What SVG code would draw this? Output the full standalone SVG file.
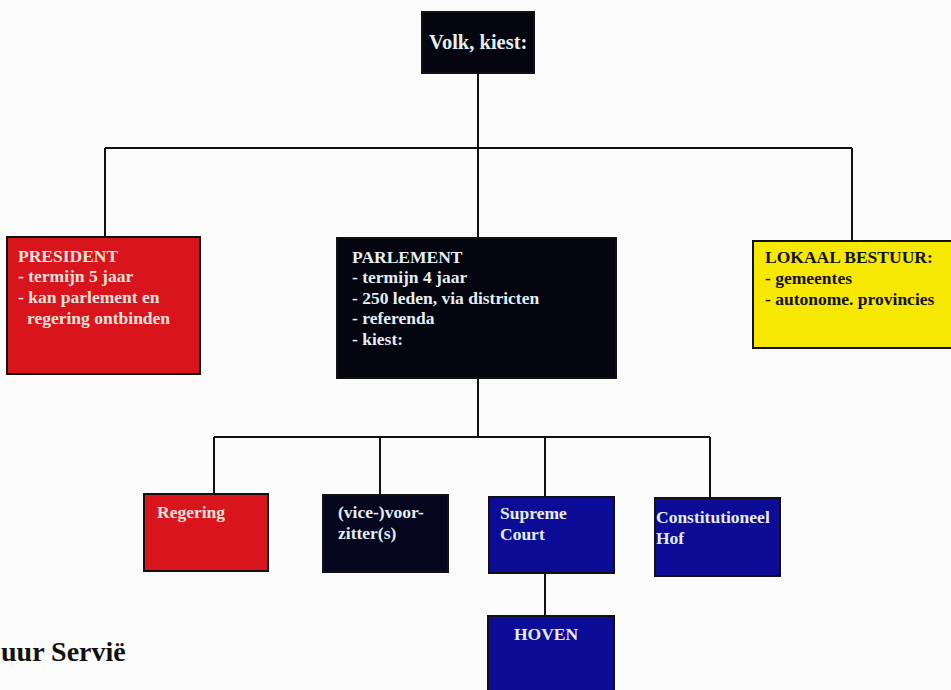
<svg xmlns="http://www.w3.org/2000/svg" width="951" height="690" viewBox="0 0 951 690">
<style>
.box{stroke:#111;stroke-width:2}
.red{fill:#d8141c}
.blk{fill:#05050f}
.navy{fill:#06061e}
.blue{fill:#0c0c96}
.yel{fill:#f6e800}
.t,.tr,.tk{font-family:"Liberation Serif",serif;font-weight:bold;font-size:17.5px}
.t{fill:#e4eef4}
.tr{fill:#f6e4dc}
.tk{fill:#111}
.con{stroke:#111;stroke-width:2;fill:none}
</style>
<rect width="951" height="690" fill="#fbfbfb"/>
<g id="connectors">
<path class="con" d="M478 73V148M105 148H852M105 148V238M478 148V238M852 148V242"/>
<path class="con" d="M478 378V437M214 437H710M214 437V495M380 437V495M545 437V497M710 437V498M545 573V617"/>
</g>
<g id="volk"><rect class="box blk" x="422" y="12" width="112" height="61"/><text class="t" x="429" y="49" style="font-size:20.5px">Volk, kiest:</text></g>
<g id="president"><rect class="box red" x="7" y="237" width="193" height="137"/>
<text class="tr" x="18" y="262">PRESIDENT</text>
<text class="tr" x="18" y="282">- termijn 5 jaar</text>
<text class="tr" x="18" y="303">- kan parlement en</text>
<text class="tr" x="27" y="324">regering ontbinden</text></g>
<g id="parlement"><rect class="box blk" x="337" y="238" width="279" height="140"/>
<text class="t" x="352" y="263">PARLEMENT</text>
<text class="t" x="352" y="283">- termijn 4 jaar</text>
<text class="t" x="352" y="304">- 250 leden, via districten</text>
<text class="t" x="352" y="324">- referenda</text>
<text class="t" x="352" y="345">- kiest:</text></g>
<g id="lokaal"><rect class="box yel" x="753" y="241" width="205" height="107"/>
<text class="tk" x="765" y="263">LOKAAL BESTUUR:</text>
<text class="tk" x="765" y="284">- gemeentes</text>
<text class="tk" x="765" y="305">- autonome. provincies</text></g>
<g id="regering"><rect class="box red" x="144" y="494" width="124" height="77"/>
<text class="tr" x="157" y="518">Regering</text></g>
<g id="voorzitter"><rect class="box navy" x="323" y="495" width="125" height="77"/>
<text class="t" x="338" y="518">(vice-)voor-</text>
<text class="t" x="338" y="539">zitter(s)</text></g>
<g id="supreme"><rect class="box blue" x="489" y="497" width="125" height="76"/>
<text class="t" x="500" y="519">Supreme</text>
<text class="t" x="500" y="540">Court</text></g>
<g id="constitutioneel"><rect class="box blue" x="655" y="498" width="125" height="78"/>
<text class="t" x="656" y="523">Constitutioneel</text>
<text class="t" x="656" y="544">Hof</text></g>
<g id="hoven"><rect class="box blue" x="488" y="616" width="126" height="80"/>
<text class="t" x="514" y="640">HOVEN</text></g>
<text x="1" y="661" font-family="Liberation Serif,serif" font-weight="bold" font-size="28" fill="#111">uur  Servië</text>
</svg>
